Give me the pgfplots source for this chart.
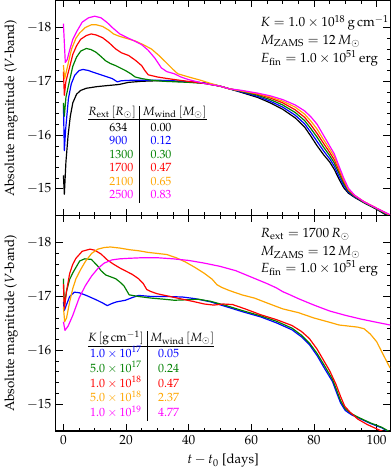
\documentclass[border=0pt]{standalone}
\usepackage[T1]{fontenc}
\usepackage{mathpazo}
\usepackage{pgfplots}
\pgfplotsset{compat=1.18}
\definecolor{cgreen}{rgb}{0,0.5,0}
\definecolor{corange}{rgb}{1,0.65,0}
\definecolor{cmag}{rgb}{1,0,1}

\pgfplotsset{
  panel/.style={
    width=251.9pt, height=162.2pt, scale only axis,
    xmin=-2.4, xmax=104.3, ymin=-18.5, ymax=-14.5, y dir=reverse,
    xtick={0,20,40,60,80,100}, ytick={-18,-17,-16,-15},
    minor x tick num=3, minor y tick num=4,
    tick align=inside, xtick pos=both, ytick pos=both,
    major tick length=5pt, minor tick length=2.5pt,
    axis line style={line width=0.9pt},
    major tick style={line width=0.7pt, black},
    minor tick style={line width=0.5pt, black},
    ylabel={Absolute magnitude ($V$-band)},
    every axis plot/.append style={line width=0.9pt, no markers, line join=round},
  },
}

\begin{document}
\begin{tikzpicture}
% top panel: varying R_ext
\begin{axis}[panel, at={(0,162.2pt)}, anchor=south west, xticklabels={}]
\addplot[black] coordinates {
 (0,-15.25) (0.3,-14.9) (0.8,-15.5) (1.5,-16.0) (2.2,-16.35) (3,-16.6) (4.2,-16.76)
 (5.5,-16.83) (7.3,-16.87) (10.6,-16.9) (14,-16.92) (17.7,-16.94) (20.8,-16.98)
 (25,-17.0) (30,-17.01) (35,-17.0) (40,-16.99) (45,-16.97) (50,-16.91) (53,-16.86)
 (57,-16.79) (62,-16.7) (66,-16.6) (70,-16.48) (74,-16.32) (77,-16.15) (79,-15.98)
 (81,-15.8) (83,-15.64) (85,-15.5) (86.5,-15.36) (88,-15.18) (89.5,-15.02) (91,-14.92)
 (93,-14.84) (96,-14.74) (100,-14.62) (104.3,-14.47)};
\addplot[blue] coordinates {
 (0,-16.56) (0.3,-15.71) (0.7,-16.1) (1.6,-16.68) (2.5,-16.95) (3.6,-17.11) (5,-17.2)
 (6.25,-17.22) (8,-17.2) (9.4,-17.17) (12.5,-17.11) (15.6,-17.05) (17.2,-16.99)
 (18.5,-17.01) (22,-17.02) (30,-17.02) (35,-17.01) (40,-16.99) (45,-16.97) (50,-16.91)
 (53,-16.86) (57,-16.8) (62,-16.72) (66,-16.63) (70,-16.52) (74,-16.37) (77,-16.21)
 (79,-16.05) (81,-15.88) (83,-15.71) (85,-15.56) (86.5,-15.42) (88,-15.23) (89.5,-15.06)
 (91,-14.94) (93,-14.85) (96,-14.75) (100,-14.63) (104.3,-14.49)};
\addplot[cgreen] coordinates {
 (0,-16.6) (0.3,-16.35) (0.8,-16.7) (2.1,-17.05) (3,-17.28) (4.2,-17.45) (5.5,-17.56)
 (7.3,-17.61) (8.8,-17.59) (10.4,-17.54) (12,-17.46) (13.5,-17.38) (15,-17.33)
 (16.7,-17.29) (19.8,-17.2) (21.5,-17.14) (22.9,-17.08) (25,-17.05) (28.1,-17.02)
 (32,-17.0) (36,-16.99) (40,-16.98) (45,-16.96) (50,-16.91) (53,-16.86) (57,-16.81)
 (62,-16.74) (66,-16.66) (70,-16.56) (74,-16.42) (77,-16.27) (79,-16.12) (81,-15.96)
 (83,-15.78) (85,-15.62) (86.5,-15.48) (88,-15.29) (89.5,-15.1) (91,-14.96) (93,-14.86)
 (96,-14.75) (100,-14.63) (104.3,-14.5)};
\addplot[red] coordinates {
 (0,-17.18) (0.3,-16.74) (0.8,-17.0) (2.1,-17.29) (3,-17.5) (4.2,-17.66) (5.5,-17.78)
 (7.3,-17.85) (8.9,-17.88) (10.5,-17.86) (12.5,-17.81) (14.5,-17.72) (16.7,-17.6)
 (18.5,-17.53) (20.8,-17.48) (23,-17.39) (25,-17.29) (26,-17.2) (27.1,-17.12)
 (30,-17.08) (33.3,-17.05) (37,-17.02) (41,-16.99) (45,-16.96) (50,-16.91) (53,-16.86)
 (57,-16.82) (62,-16.76) (66,-16.69) (70,-16.6) (74,-16.47) (77,-16.33) (79,-16.19)
 (81,-16.03) (83,-15.85) (85,-15.68) (86.5,-15.54) (88,-15.34) (89.5,-15.14) (91,-14.98)
 (93,-14.87) (96,-14.76) (100,-14.64) (104.3,-14.51)};
\addplot[corange] coordinates {
 (0,-17.3) (0.4,-17.05) (1,-17.2) (2.6,-17.6) (4,-17.8) (5.2,-17.9) (7,-18.0)
 (8.9,-18.05) (10.5,-18.05) (12.5,-18.02) (14.5,-17.95) (16,-17.88) (17.7,-17.84)
 (20,-17.8) (22.9,-17.75) (25.5,-17.68) (28.1,-17.6) (30.5,-17.48) (33.3,-17.32)
 (35,-17.22) (36.5,-17.14) (40,-17.08) (43.75,-17.02) (47,-16.96) (50,-16.91)
 (53,-16.86) (57,-16.82) (62,-16.77) (66,-16.71) (70,-16.63) (74,-16.52) (77,-16.39)
 (79,-16.26) (81,-16.11) (83,-15.92) (85,-15.74) (86.5,-15.6) (88,-15.38) (89.5,-15.17)
 (91,-14.99) (93,-14.88) (96,-14.76) (100,-14.64) (104.3,-14.51)};
\addplot[cmag] coordinates {
 (0,-18.07) (0.6,-17.35) (1.2,-17.4) (2,-17.58) (3,-17.78) (4.2,-17.92) (6,-18.1)
 (8,-18.18) (10,-18.21) (12,-18.18) (14,-18.09) (15.6,-18.0) (18,-17.88) (20.8,-17.8)
 (23,-17.74) (25,-17.68) (27,-17.58) (29.2,-17.43) (31.25,-17.25) (33,-17.18)
 (35.4,-17.14) (37.5,-17.08) (40,-17.03) (45,-16.96) (50,-16.91) (53,-16.86)
 (57,-16.83) (62,-16.78) (66,-16.73) (70,-16.66) (74,-16.56) (77,-16.45) (79,-16.34)
 (81,-16.2) (83,-16.0) (85,-15.8) (86.5,-15.65) (88,-15.42) (89.5,-15.2) (91,-15.01)
 (93,-14.88) (96,-14.76) (100,-14.64) (104.3,-14.52)};
\node[anchor=base west] at (axis cs:61.5,-18.01) {$K = 1.0\times10^{18}\,\mathrm{g\,cm^{-1}}$};
\node[anchor=base west] at (axis cs:61.5,-17.69) {$M_\mathrm{ZAMS} = 12\,M_\odot$};
\node[anchor=base west] at (axis cs:61.5,-17.35) {$E_\mathrm{fin} = 1.0\times10^{51}\,\mathrm{erg}$};
\node[anchor=north west, inner sep=0pt, font=\fontsize{9}{10.2}\selectfont] at (axis cs:7.8,-16.55) {%
\setlength{\tabcolsep}{2.5pt}%
\begin{tabular}{@{}l|l@{}}
$R_\mathrm{ext}\,[R_\odot]$ & $M_\mathrm{wind}\,[M_\odot]$\\ \hline
\rule{0pt}{8.5pt}\hspace{16pt}634 & \hspace{6pt}0.00\\
\hspace{16pt}\textcolor{blue}{900} & \hspace{6pt}\textcolor{blue}{0.12}\\
\hspace{16pt}\textcolor{cgreen}{1300} & \hspace{6pt}\textcolor{cgreen}{0.30}\\
\hspace{16pt}\textcolor{red}{1700} & \hspace{6pt}\textcolor{red}{0.47}\\
\hspace{16pt}\textcolor{corange}{2100} & \hspace{6pt}\textcolor{corange}{0.65}\\
\hspace{16pt}\textcolor{cmag}{2500} & \hspace{6pt}\textcolor{cmag}{0.83}
\end{tabular}};
\end{axis}
% bottom panel: varying K
\begin{axis}[panel, at={(0,0)}, anchor=south west, xlabel={$t - t_0$ [days]}]
\addplot[blue] coordinates {
 (0,-16.9) (0.3,-16.74) (1,-16.85) (2,-17.0) (3.5,-17.08) (5,-17.07) (7.3,-17.02)
 (10.4,-16.94) (12.5,-16.88) (14,-16.83) (15.5,-16.87) (17,-16.9) (19.8,-16.93)
 (22,-16.98) (24,-17.02) (28,-17.0) (33,-17.0) (38,-16.99) (42,-16.96) (47,-16.9)
 (52,-16.81) (57,-16.72) (63,-16.62) (68,-16.51) (73,-16.38) (76,-16.25) (78.6,-16.1)
 (81,-15.9) (83.8,-15.62) (85.9,-15.42) (87.3,-15.2) (88.5,-15.02) (90,-14.88)
 (92,-14.8) (94.3,-14.74) (98,-14.64) (101.6,-14.56) (104.3,-14.47)};
\addplot[cgreen] coordinates {
 (0,-17.33) (0.3,-16.83) (1,-17.1) (2,-17.32) (3.1,-17.45) (5.2,-17.66) (6.8,-17.7)
 (8.9,-17.69) (10.9,-17.57) (12,-17.48) (13.5,-17.4) (16.7,-17.33) (18,-17.27)
 (19.3,-17.2) (20.3,-17.1) (21,-17.03) (24,-17.0) (28,-16.97) (32,-16.95) (35.4,-16.93)
 (40,-16.94) (43,-16.95) (47,-16.91) (52,-16.83) (57,-16.74) (63,-16.64) (68,-16.54)
 (73,-16.41) (76,-16.28) (78.6,-16.13) (81,-15.94) (83.8,-15.67) (85.9,-15.46)
 (87.3,-15.25) (88.5,-15.06) (90,-14.91) (92,-14.82) (94.3,-14.75) (98,-14.65)
 (101.6,-14.57) (104.3,-14.48)};
\addplot[red] coordinates {
 (0,-17.23) (0.3,-16.77) (1,-17.1) (2,-17.43) (3,-17.6) (4,-17.71) (6,-17.84)
 (8.5,-17.88) (10,-17.86) (12,-17.79) (14,-17.68) (16,-17.6) (18,-17.53) (20,-17.47)
 (22,-17.41) (24,-17.33) (25.5,-17.24) (26.6,-17.13) (28,-17.09) (30,-17.05) (34,-17.0)
 (38,-16.95) (42,-16.9) (45,-16.86) (48,-16.84) (51,-16.86) (54,-16.85) (58,-16.77)
 (63,-16.66) (68,-16.57) (73,-16.46) (76,-16.35) (78.5,-16.22) (81,-16.02) (83,-15.82)
 (85,-15.62) (87,-15.37) (88.5,-15.14) (89.8,-14.96) (91.5,-14.85) (94,-14.72)
 (97,-14.62) (100,-14.54) (104.3,-14.43)};
\addplot[corange] coordinates {
 (0,-16.8) (0.4,-16.53) (1,-16.6) (2,-16.9) (3,-17.15) (4,-17.33) (5.5,-17.5) (7,-17.65)
 (9,-17.8) (11,-17.88) (13,-17.91) (15,-17.92) (18,-17.9) (21,-17.87) (24,-17.85)
 (27,-17.82) (30,-17.8) (33,-17.78) (36,-17.72) (39,-17.64) (42,-17.54) (45,-17.43)
 (47.5,-17.32) (49,-17.22) (50.5,-17.17) (53,-17.11) (57,-17.03) (61,-16.97) (65,-16.88)
 (70,-16.77) (75,-16.7) (80,-16.6) (85,-16.52) (88,-16.47) (91,-16.45) (94,-16.43)
 (96,-16.4) (98,-16.3) (100,-16.16) (102,-15.93) (104.3,-15.67)};
\addplot[cmag] coordinates {
 (0,-16.53) (0.5,-16.37) (1.5,-16.45) (3,-16.65) (5,-16.97) (7,-17.2) (9,-17.38)
 (11,-17.52) (13,-17.62) (15.5,-17.68) (18,-17.7) (21,-17.71) (25,-17.72) (30,-17.72)
 (35,-17.7) (40,-17.67) (45,-17.62) (50,-17.56) (55,-17.48) (60,-17.36) (65,-17.24)
 (68,-17.16) (70,-17.09) (72,-17.04) (75,-16.96) (80,-16.84) (85,-16.73) (90,-16.65)
 (95,-16.58) (100,-16.52) (104.3,-16.47)};
\node[anchor=base west] at (axis cs:61.5,-18.09) {$R_\mathrm{ext} = 1700\,R_\odot$};
\node[anchor=base west] at (axis cs:61.5,-17.755) {$M_\mathrm{ZAMS} = 12\,M_\odot$};
\node[anchor=base west] at (axis cs:61.5,-17.45) {$E_\mathrm{fin} = 1.0\times10^{51}\,\mathrm{erg}$};
\node[anchor=north west, inner sep=0pt, font=\fontsize{9}{10.2}\selectfont] at (axis cs:7.8,-16.37) {%
\setlength{\tabcolsep}{2.5pt}%
\begin{tabular}{@{}c|l@{}}
$K\,[\mathrm{g\,cm^{-1}}]$ & $M_\mathrm{wind}\,[M_\odot]$\\ \hline
\rule{0pt}{8.5pt}\textcolor{blue}{$1.0\times10^{17}$} & \hspace{6pt}\textcolor{blue}{0.05}\\
\textcolor{cgreen}{$5.0\times10^{17}$} & \hspace{6pt}\textcolor{cgreen}{0.24}\\
\textcolor{red}{$1.0\times10^{18}$} & \hspace{6pt}\textcolor{red}{0.47}\\
\textcolor{corange}{$5.0\times10^{18}$} & \hspace{6pt}\textcolor{corange}{2.37}\\
\textcolor{cmag}{$1.0\times10^{19}$} & \hspace{6pt}\textcolor{cmag}{4.77}
\end{tabular}};
\end{axis}
\end{tikzpicture}
\end{document}
